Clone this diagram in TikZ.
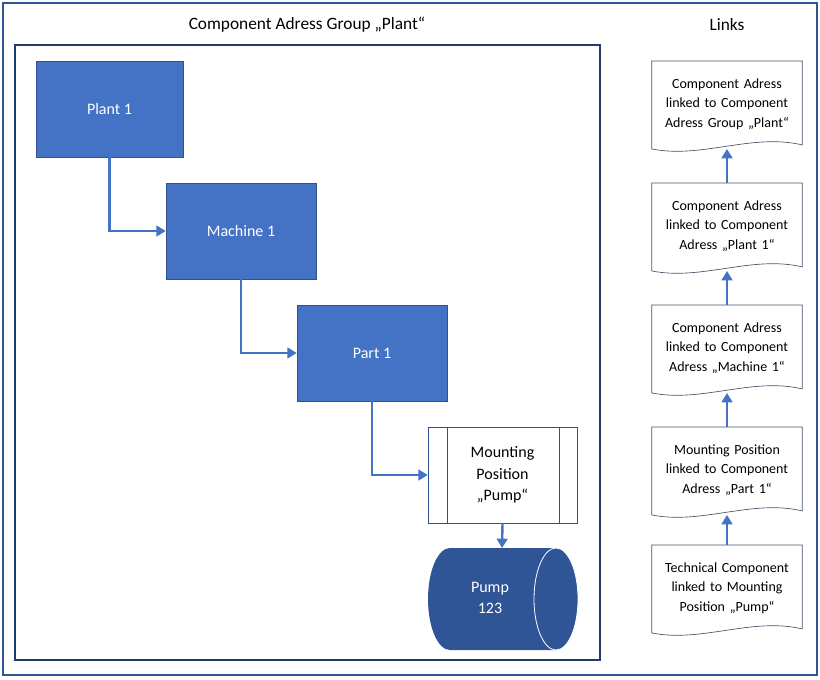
\documentclass[tikz,border=0pt]{standalone}
\usepackage{fontspec}
\setmainfont{Carlito}
\usetikzlibrary{arrows.meta,calc}
\definecolor{boxfill}{HTML}{4472C4}
\definecolor{boxline}{HTML}{2F528F}
\definecolor{cylfill}{HTML}{2F5597}
\definecolor{frame}{HTML}{2F5597}
\definecolor{docline}{HTML}{44546A}
\begin{document}
\begin{tikzpicture}[x=0.75pt,y=-0.75pt,
  box/.style={draw=boxline,fill=boxfill,text=white,minimum width=112.5pt,minimum height=72pt,font=\fontsize{12}{14.5}\selectfont,inner sep=0pt},
  conn/.style={draw=boxfill,line width=1.8pt,-{Triangle[length=7pt,width=8pt]}},
  doc/.style={minimum width=112.5pt,minimum height=64pt,align=center,text width=108pt,font=\fontsize{10.5}{14.5}\selectfont,inner sep=0pt},
  docl/.style={draw=docline,line width=0.5pt,fill=white},
  ttl/.style={font=\fontsize{13}{15}\selectfont}]
\useasboundingbox (0,0) rectangle (820,679);
\draw[frame,line width=0.8pt] (3,3) rectangle (817,675);
\draw[frame!70!black,line width=2pt] (15,45) rectangle (600,660);
\node[ttl] (t1) at (307,25) {Component Adress Group „Plant“};
\node[ttl] (t2) at (727,25) {Links};
% left hierarchy
\node[box,minimum width=110.25pt] (p1) at (109.5,109) {Plant 1};
\node[box] (m1) at (241,231) {Machine 1};
\node[box] (pa) at (372,353) {Part 1};
\node[draw=boxline,fill=white,minimum width=111.75pt,minimum height=72pt,inner sep=0pt,align=center,font=\fontsize{12}{16}\selectfont] (mp) at (502.5,475) {Mounting\\Position\\„Pump“};
\draw[boxline,line width=0.5pt] (447,427) -- (447,523) (559,427) -- (559,523);
\fill[cylfill] (556,548) -- (450,548) arc[start angle=90,end angle=270,x radius=16.5pt,y radius=38.25pt] -- (556,650) arc[start angle=-90,end angle=90,x radius=16.5pt,y radius=38.25pt] -- cycle;
\draw[white,line width=0.6pt] (556,599) ellipse[x radius=16.5pt,y radius=38.25pt];
\node[text=white,align=center,font=\fontsize{12}{16}\selectfont] (pu) at (490,598) {Pump\\123};
\draw[conn] (p1.south) |- (m1.west);
\draw[conn] (m1.south) |- (pa.west);
\draw[conn] (pa.south) |- (mp.west);
\draw[conn] (mp.south) -- (502,548);
% documents
\newcommand\docshape[1]{%
  \path[docl] (#1.north west) -- (#1.north east) -- ($(#1.south east)+(0,-2)$)
   .. controls ($(#1.south east)+(-50,-14)$) and ($(#1.south west)+(50,12)$) .. ($(#1.south west)+(0,2)$) -- cycle;}
\node[doc] (d1) at (727,104) {};
\node[doc] (d2) at (727,226) {};
\node[doc] (d3) at (727,348) {};
\node[doc] (d4) at (727,470) {};
\node[doc] (d5) at (727,588) {};
\docshape{d1}\docshape{d2}\docshape{d3}\docshape{d4}\docshape{d5}
\node[doc] at (d1) {Component Adress linked to Component Adress Group „Plant“};
\node[doc] at (d2) {Component Adress linked to Component Adress „Plant 1“};
\node[doc] at (d3) {Component Adress linked to Component Adress „Machine 1“};
\node[doc] at (d4) {Mounting Position linked to Component Adress „Part 1“};
\node[doc] at (d5) {Technical Component linked to Mounting Position „Pump“};
\draw[conn] (d2.north) -- ($(d1.south)+(0,2)$);
\draw[conn] (d3.north) -- ($(d2.south)+(0,2)$);
\draw[conn] (d4.north) -- ($(d3.south)+(0,2)$);
\draw[conn] (d5.north) -- ($(d4.south)+(0,2)$);
\end{tikzpicture}
\end{document}
